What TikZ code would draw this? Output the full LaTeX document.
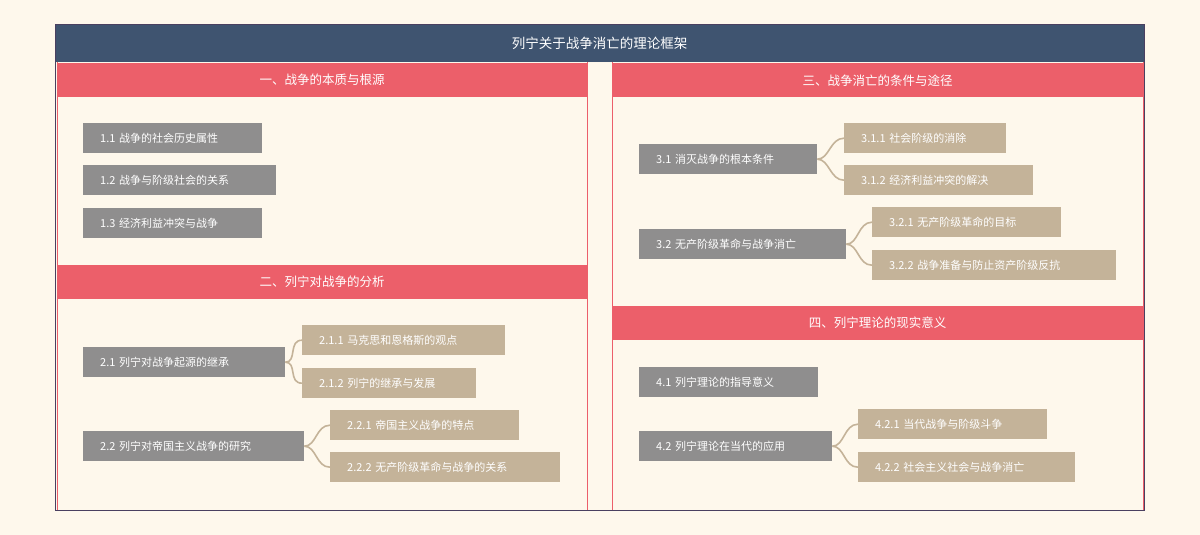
\documentclass[tikz,border=0pt]{standalone}
\usepackage{fontspec}
\setmainfont{Noto Sans CJK SC}
\definecolor{bg}{HTML}{FEF8EC}
\definecolor{titlec}{HTML}{3F5470}
\definecolor{redc}{HTML}{EC5F6A}
\definecolor{grayc}{HTML}{8F8E8E}
\definecolor{tanc}{HTML}{C4B399}
\definecolor{framec}{HTML}{4A4060}
\tikzset{
 base/.style={anchor=north west, minimum height=30, inner xsep=0, inner ysep=0, text=white, font=\fontsize{11}{13}\selectfont},
 gbox/.style={base, fill=grayc},
 tbox/.style={base, fill=tanc},
 hdr/.style={anchor=north west, fill=redc, text=white, minimum height=34, inner sep=0, font=\fontsize{12.5}{14}\selectfont},
 conn/.style={tanc, line width=1.6pt},
}
\newcommand{\bx}[6]{\node[#1, minimum width=#5, text width=#5-34, align=left] (#2) at (#3,#4) {#6};}
\begin{document}
\begin{tikzpicture}[x=1pt,y=-1pt]
\fill[bg] (0,0) rectangle (1200,535);
\useasboundingbox (0,0) rectangle (1200,535);
\node[anchor=north west, fill=titlec, minimum width=1089, minimum height=37, inner sep=0, text=white, font=\fontsize{13.5}{15}\selectfont] (title) at (55,25) {列宁关于战争消亡的理论框架};
\draw[redc, line width=1pt] (57,62) -- (57,510) (587,62) -- (587,510) (612,62) -- (612,510) (1143,62) -- (1143,510);
\node[hdr, minimum width=530] (h1) at (57,63) {一、战争的本质与根源};
\node[hdr, minimum width=530] (h2) at (57,265) {二、列宁对战争的分析};
\node[hdr, minimum width=531] (h3) at (612,63) {三、战争消亡的条件与途径};
\node[hdr, minimum width=531] (h4) at (612,306) {四、列宁理论的现实意义};
\draw[framec, line width=1pt] (55,25) rectangle (1144,510);
\bx{gbox}{n11}{83}{123}{179}{1.1 战争的社会历史属性}
\bx{gbox}{n12}{83}{165}{193}{1.2 战争与阶级社会的关系}
\bx{gbox}{n13}{83}{208}{179}{1.3 经济利益冲突与战争}
\bx{gbox}{n21}{83}{347}{202}{2.1 列宁对战争起源的继承}
\bx{tbox}{n211}{302}{325}{203}{2.1.1 马克思和恩格斯的观点}
\bx{tbox}{n212}{302}{368}{174}{2.1.2 列宁的继承与发展}
\bx{gbox}{n22}{83}{431}{221}{2.2 列宁对帝国主义战争的研究}
\bx{tbox}{n221}{330}{410}{189}{2.2.1 帝国主义战争的特点}
\bx{tbox}{n222}{330}{452}{230}{2.2.2 无产阶级革命与战争的关系}
\bx{gbox}{n31}{639}{144}{178}{3.1 消灭战争的根本条件}
\bx{tbox}{n311}{844}{123}{162}{3.1.1 社会阶级的消除}
\bx{tbox}{n312}{844}{165}{189}{3.1.2 经济利益冲突的解决}
\bx{gbox}{n32}{639}{229}{207}{3.2 无产阶级革命与战争消亡}
\bx{tbox}{n321}{872}{207}{189}{3.2.1 无产阶级革命的目标}
\bx{tbox}{n322}{872}{250}{244}{3.2.2 战争准备与防止资产阶级反抗}
\bx{gbox}{n41}{639}{367}{179}{4.1 列宁理论的指导意义}
\bx{gbox}{n42}{639}{431}{193}{4.2 列宁理论在当代的应用}
\bx{tbox}{n421}{858}{409}{189}{4.2.1 当代战争与阶级斗争}
\bx{tbox}{n422}{858}{452}{217}{4.2.2 社会主义社会与战争消亡}
\foreach \p/\c in {n21/n211,n21/n212,n22/n221,n22/n222,n31/n311,n31/n312,n32/n321,n32/n322,n42/n421,n42/n422}{
 \draw[conn] (\p.east) .. controls +(12,0) and +(-14,0) .. (\c.west);
}
\end{tikzpicture}
\end{document}
